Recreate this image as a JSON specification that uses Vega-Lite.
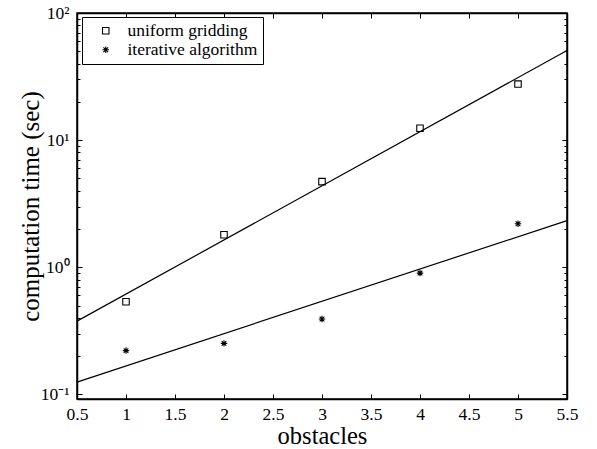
{
  "$schema": "https://vega.github.io/schema/vega-lite/v6.json",
  "width": 490,
  "height": 386,
  "autosize": {"type": "none"},
  "padding": {"left": 77, "top": 13, "right": 30, "bottom": 50},
  "background": "white",
  "config": {
    "view": {"stroke": "black", "strokeWidth": 1.5},
    "font": "Liberation Serif",
    "axis": {
      "grid": false,
      "domainColor": "black",
      "domainWidth": 1.5,
      "tickColor": "black",
      "tickWidth": 1,
      "labelColor": "black",
      "labelFont": "Liberation Serif",
      "labelFontSize": 17.5,
      "titleFont": "Liberation Serif",
      "titleFontSize": 25,
      "titleFontWeight": "normal",
      "titleColor": "black"
    },
    "legend": {
      "labelFont": "Liberation Serif",
      "labelFontSize": 17.5,
      "labelColor": "black"
    }
  },
  "datasets": {
    "points": [
      {"method": "uniform gridding", "x": 1, "y": 0.536},
      {"method": "uniform gridding", "x": 2, "y": 1.8},
      {"method": "uniform gridding", "x": 3, "y": 4.72},
      {"method": "uniform gridding", "x": 4, "y": 12.4},
      {"method": "uniform gridding", "x": 5, "y": 27.6},
      {"method": "iterative algorithm", "x": 1, "y": 0.221},
      {"method": "iterative algorithm", "x": 2, "y": 0.252},
      {"method": "iterative algorithm", "x": 3, "y": 0.392},
      {"method": "iterative algorithm", "x": 4, "y": 0.9},
      {"method": "iterative algorithm", "x": 5, "y": 2.2}
    ],
    "fits": [
      {"series": "uniform fit", "x": 0.5, "y": 0.377},
      {"series": "uniform fit", "x": 5.5, "y": 50.7},
      {"series": "iterative fit", "x": 0.5, "y": 0.125},
      {"series": "iterative fit", "x": 5.5, "y": 2.33}
    ]
  },
  "layer": [
    {
      "data": {"name": "fits"},
      "mark": {"type": "line", "color": "black", "strokeWidth": 1.2},
      "encoding": {
        "x": {
          "field": "x", "type": "quantitative",
          "scale": {"domain": [0.5, 5.5], "nice": false, "zero": false},
          "axis": {
            "orient": "bottom", "title": "obstacles",
            "values": [0.5, 1, 1.5, 2, 2.5, 3, 3.5, 4, 4.5, 5, 5.5],
            "format": "~g",
            "labelFont": "Liberation Serif", "titleFont": "Liberation Serif",
            "tickSize": -5, "labelPadding": 11,
            "titleFontSize": 24.5,
            "titleX": 245, "titleY": 44.5, "titleBaseline": "alphabetic",
            "labelFlush": false, "labelOverlap": false
          }
        },
        "y": {
          "field": "y", "type": "quantitative",
          "scale": {"type": "log", "domain": [0.092, 100], "nice": false},
          "axis": {
            "orient": "left", "title": "computation time (sec)",
            "values": [0.1, 1, 10, 100],
            "labelExpr": "datum.value >= 99 ? '10²' : datum.value >= 9 ? '10¹' : datum.value >= 0.9 ? '10⁰' : '10⁻¹'",
            "labelFont": "Liberation Serif", "titleFont": "Liberation Serif",
            "tickSize": -5, "labelPadding": 13,
            "titleX": -39, "titleY": 193, "titleBaseline": "alphabetic", "titleAngle": -90,
            "labelFlush": false, "labelOverlap": false
          }
        },
        "detail": {"field": "series", "type": "nominal"}
      }
    },
    {
      "data": {"name": "points"},
      "mark": {"type": "point", "filled": false, "color": "black", "opacity": 1, "strokeWidth": 1.1, "size": 42},
      "encoding": {
        "x": {
          "field": "x", "type": "quantitative",
          "axis": {
            "orient": "top", "title": null, "labels": false,
            "values": [0.5, 1, 1.5, 2, 2.5, 3, 3.5, 4, 4.5, 5, 5.5],
            "tickSize": -5
          }
        },
        "y": {
          "field": "y", "type": "quantitative",
          "axis": {
            "orient": "right", "title": null, "labels": false,
            "values": [0.1, 1, 10, 100], "tickSize": -5
          }
        },
        "shape": {
          "field": "method", "type": "nominal",
          "scale": {
            "domain": ["uniform gridding", "iterative algorithm"],
            "range": ["square", "M-1,0L1,0M0,-1L0,1M-0.72,-0.72L0.72,0.72M-0.72,0.72L0.72,-0.72"]
          },
          "legend": {
            "title": null,
            "orient": "none",
            "legendX": 5,
            "legendY": 4,
            "strokeColor": "black",
            "fillColor": "white",
            "padding": 5,
            "symbolOffset": 10,
            "labelOffset": 13,
            "rowPadding": 0,
            "symbolSize": 42,
            "symbolStrokeColor": "black",
            "symbolStrokeWidth": 1.1,
            "symbolOpacity": 1,
            "labelFont": "Liberation Serif",
            "labelFontSize": 17.5
          }
        }
      }
    },
    {
      "data": {"name": "points"},
      "mark": {"type": "point", "opacity": 0},
      "encoding": {
        "x": {"field": "x", "type": "quantitative", "axis": null},
        "y": {
          "field": "y", "type": "quantitative",
          "axis": {
            "orient": "left", "title": null, "labels": false, "domain": false,
            "values": [0.2, 0.3, 0.4, 0.5, 0.6, 0.7, 0.8, 0.9, 2, 3, 4, 5, 6, 7, 8, 9, 20, 30, 40, 50, 60, 70, 80, 90],
            "tickSize": -3
          }
        }
      }
    },
    {
      "data": {"name": "points"},
      "mark": {"type": "point", "opacity": 0},
      "encoding": {
        "x": {"field": "x", "type": "quantitative", "axis": null},
        "y": {
          "field": "y", "type": "quantitative",
          "axis": {
            "orient": "right", "title": null, "labels": false, "domain": false,
            "values": [0.2, 0.3, 0.4, 0.5, 0.6, 0.7, 0.8, 0.9, 2, 3, 4, 5, 6, 7, 8, 9, 20, 30, 40, 50, 60, 70, 80, 90],
            "tickSize": -3
          }
        }
      }
    }
  ],
  "resolve": {"axis": {"x": "independent", "y": "independent"}}
}
